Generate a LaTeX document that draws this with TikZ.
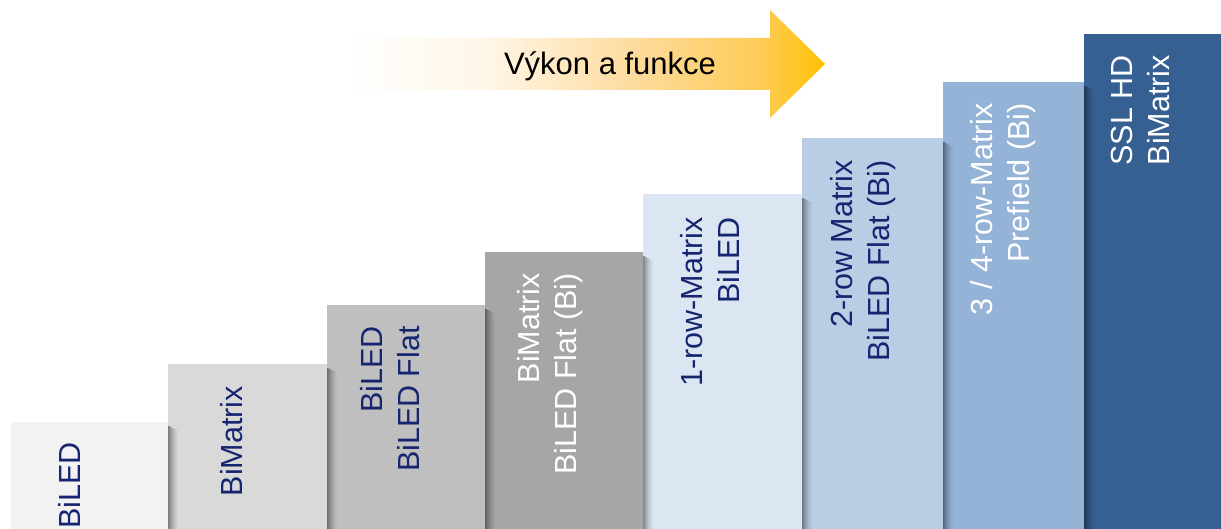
\documentclass[tikz,border=0pt]{standalone}
\usepackage{fontspec}
\setmainfont{Liberation Sans}
\usetikzlibrary{calc}
\definecolor{cA}{HTML}{F2F2F2}
\definecolor{cB}{HTML}{D9D9D9}
\definecolor{cC}{HTML}{BFBFBF}
\definecolor{cD}{HTML}{A6A6A6}
\definecolor{cE}{HTML}{DCE6F2}
\definecolor{cF}{HTML}{B9CDE5}
\definecolor{cG}{HTML}{95B3D7}
\definecolor{cH}{HTML}{376092}
\definecolor{navy}{HTML}{152570}
\definecolor{arA}{HTML}{FFF6E6}
\definecolor{arB}{HTML}{FDDCA0}
\definecolor{arC}{HTML}{FECB55}
\definecolor{gold}{HTML}{FFC000}
\pgfdeclarehorizontalshading{arrowfade}{100bp}{color(0bp)=(white); color(25bp)=(white); color(40bp)=(arA); color(54.5bp)=(arB); color(68.5bp)=(arC); color(75bp)=(gold); color(100bp)=(gold)}
\tikzset{
  bar/.style={rectangle, draw=none, inner sep=0pt, anchor=south west},
  lbl/.style={rotate=90, anchor=east, inner sep=0pt, align=right, font=\fontsize{30.5}{37}\selectfont},
  shadowstrip/.style={fill=black},
}
\newcommand{\barshadow}[1]{%
  \foreach \i [evaluate=\i as \op using {0.42*(1-\i/11)^1.6}] in {0,...,10}
    \fill[shadowstrip, opacity=\op] ($(#1.south east)+(\i,0)$) rectangle ($(#1.north east)+(\i+1,-4-0.5*\i)$);%
}
\begin{document}
\begin{tikzpicture}[x=1pt,y=1pt]
\useasboundingbox (0,0) rectangle (1221,529);
\clip (0,0) rectangle (1221,529);
\fill[white] (0,0) rectangle (1221,529);
% bars, right to left
\node[bar, fill=cH, minimum width=150pt, minimum height=500pt] (b8) at (1084,-5) {};
\node[bar, fill=cG, minimum width=141pt, minimum height=452pt] (b7) at (943,-5) {};
\barshadow{b7}
\node[bar, fill=cF, minimum width=141pt, minimum height=396pt] (b6) at (802,-5) {};
\barshadow{b6}
\node[bar, fill=cE, minimum width=159pt, minimum height=340pt] (b5) at (643,-5) {};
\barshadow{b5}
\node[bar, fill=cD, minimum width=158pt, minimum height=282pt] (b4) at (485,-5) {};
\barshadow{b4}
\node[bar, fill=cC, minimum width=158pt, minimum height=229pt] (b3) at (327,-5) {};
\barshadow{b3}
\node[bar, fill=cB, minimum width=159pt, minimum height=170pt] (b2) at (168,-5) {};
\barshadow{b2}
\node[bar, fill=cA, minimum width=157pt, minimum height=112pt] (b1) at (11,-5) {};
\barshadow{b1}
% labels
\node[lbl, text=navy] (t1) at (69,87) {BiLED};
\node[lbl, text=navy] (t2) at (232,143) {BiMatrix};
\node[lbl, text=navy] (t3) at (390.5,203) {BiLED\\BiLED Flat};
\node[lbl, text=white] (t4) at (550.5,256) {BiMatrix\\BiLED Flat (Bi)};
\node[lbl, text=navy] (t5) at (709.5,312) {1-row-Matrix\\BiLED};
\node[lbl, text=navy] (t6) at (863.5,369) {2-row Matrix\\BiLED Flat (Bi)};
\node[lbl, text=white] (t7) at (1003,426) {3 / 4-row-Matrix\\Prefield (Bi)};
\node[lbl, text=white] (t8) at (1140.5,474) {SSL HD\\BiMatrix};
% arrow
\shade[shading=arrowfade] (345,491) -- (770,491) -- (770,519) -- (825,465) -- (770,411) -- (770,439) -- (345,439) -- cycle;
\node[anchor=base, inner sep=0pt, font=\fontsize{31}{37}\selectfont] (arr) at (610,454) {Výkon a funkce};
\end{tikzpicture}
\end{document}
